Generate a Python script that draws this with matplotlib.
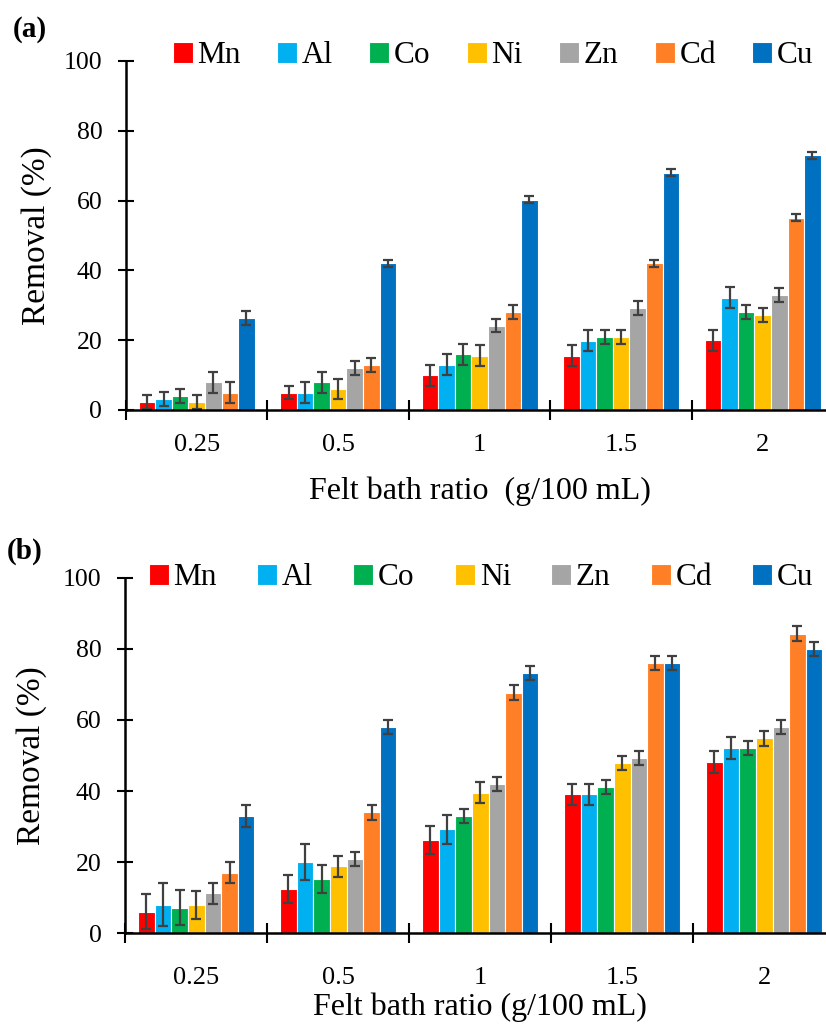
import numpy as np
import matplotlib
matplotlib.use('Agg')
import matplotlib.pyplot as plt

plt.rcParams['font.family'] = ['Liberation Serif', 'DejaVu Serif']

ratios = ['0.25', '0.5', '1', '1.5', '2']
metals = ['Mn', 'Al', 'Co', 'Ni', 'Zn', 'Cd', 'Cu']
colors = ['#FF0000', '#00B0F0', '#00B050', '#FFC000', '#A5A5A5', '#FF7F27', '#0070C0']

# rows = felt bath ratio, columns = metals (Mn, Al, Co, Ni, Zn, Cd, Cu)
removal_a = [[2.2, 3.1, 4.1, 2.3, 8.0, 5.0, 26.3],
             [5.0, 5.0, 8.0, 6.0, 12.0, 13.0, 42.0],
             [10.0, 13.0, 16.0, 15.6, 24.2, 28.2, 60.2],
             [15.6, 19.9, 21.0, 21.0, 29.1, 42.0, 68.0],
             [20.0, 32.2, 28.2, 27.1, 33.0, 55.1, 73.0]]
err_a = [[2, 2, 2, 2, 3, 3, 2],
         [2, 3, 3, 3, 2, 2, 1],
         [3, 3, 3, 3, 2, 2, 1],
         [3, 3, 2, 2, 2, 1, 1],
         [3, 3, 2, 2, 2, 1, 1]]

removal_b = [[6.1, 8.1, 7.2, 7.9, 11.2, 17.1, 33.0],
             [12.4, 20.1, 15.2, 18.8, 21.0, 34.0, 58.0],
             [26.2, 29.2, 33.0, 39.6, 42.1, 67.7, 73.2],
             [39.1, 39.1, 41.2, 48.0, 49.2, 76.1, 76.1],
             [48.2, 52.1, 52.1, 54.8, 58.0, 84.3, 80.0]]
err_b = [[5, 6, 5, 4, 3, 3, 3],
         [4, 5, 4, 3, 2, 2, 2],
         [4, 4, 2, 3, 2, 2, 2],
         [3, 3, 2, 2, 2, 2, 2],
         [3, 3, 2, 2, 2, 2, 2]]

fig = plt.figure(figsize=(8.26, 10.28), dpi=100)


def draw_panel(ax, vals, errs, xlabel, xpad, xlab_y, ylab_x, leg_anchor, colspace):
    vals = np.array(vals)
    errs = np.array(errs)
    x = np.arange(len(ratios))
    w = 0.117
    for j, m in enumerate(metals):
        off = (j - 3) * w
        ax.bar(x + off, vals[:, j], w, color=colors[j], edgecolor='white', linewidth=0.8, label=m,
               yerr=errs[:, j], error_kw=dict(ecolor='#404040', elinewidth=1.6, capsize=3.8, capthick=1.6))
    ax.set_xlim(-0.5, 4.5)
    ax.set_ylim(0, 100)
    ax.set_yticks(np.arange(0, 101, 20))
    ax.set_xticks(np.arange(-0.5, 4.6, 1.0))
    ax.set_xticks(x, minor=True)
    ax.set_xticklabels([])
    ax.set_xticklabels(ratios, minor=True)
    ax.tick_params(axis='x', which='major', direction='inout', length=14, width=1.5)
    ax.tick_params(axis='x', which='minor', length=0, pad=xpad, labelsize=19)
    ax.tick_params(axis='y', direction='inout', length=12, width=1.5, labelsize=18.5, pad=11)
    for s in ['top', 'right']:
        ax.spines[s].set_visible(False)
    for s in ['left', 'bottom']:
        ax.spines[s].set_linewidth(1.8)
    ax.set_ylabel('Removal (%)', fontsize=24)
    ax.yaxis.set_label_coords(ylab_x, 0.5)
    ax.set_xlabel(xlabel, fontsize=23)
    ax.xaxis.set_label_coords(0.5, xlab_y)
    ax.legend(loc='center left', bbox_to_anchor=leg_anchor, ncol=7, frameon=False, fontsize=22.5,
              handlelength=0.64, handleheight=0.64, handletextpad=0.15, columnspacing=colspace,
              borderaxespad=0, borderpad=0)


ax1 = fig.add_axes([0.1525, 0.6012, 0.8565, 0.3395])
draw_panel(ax1, removal_a, err_a, 'Felt bath ratio  (g/100 mL)', 17, -0.19, -0.105, (0.066, 1.015), 1.16)

ax2 = fig.add_axes([0.1517, 0.0921, 0.8595, 0.3459])
draw_panel(ax2, removal_b, err_b, 'Felt bath ratio (g/100 mL)', 24, -0.166, -0.11, (0.033, 1.0), 1.29)

fig.text(0.016, 0.971, '(a)', fontsize=21, fontweight='bold', va='center')
fig.text(0.008, 0.464, '(b)', fontsize=21, fontweight='bold', va='center')

plt.savefig('out.png', dpi=100)
